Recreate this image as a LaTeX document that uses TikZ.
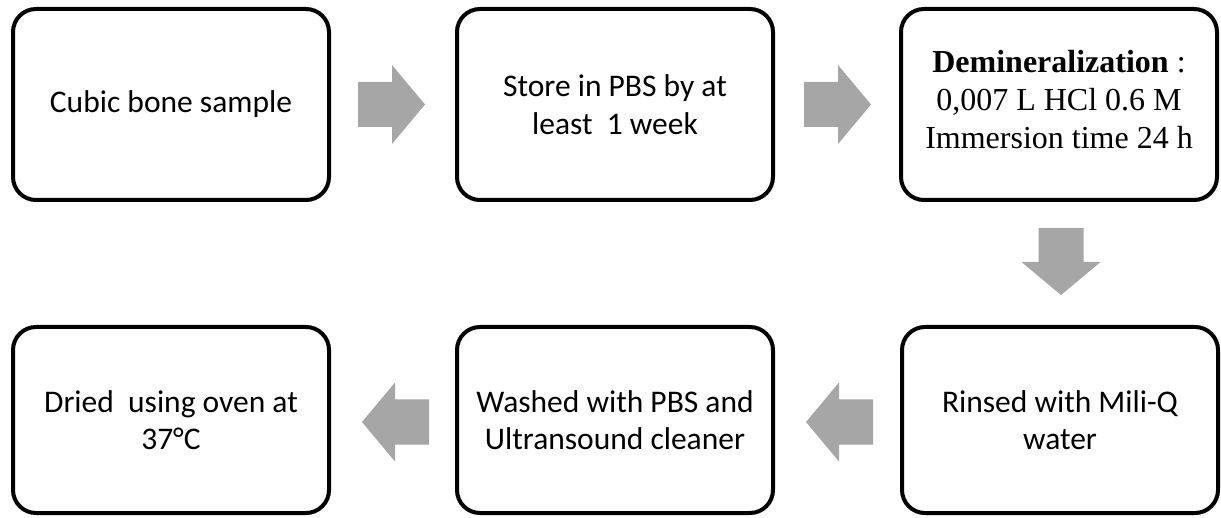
\documentclass[tikz,border=0pt]{standalone}
\usepackage{fontspec}
\setmainfont{Carlito}
\newfontfamily\tnr{Liberation Serif}
\begin{document}
\begin{tikzpicture}[x=1pt,y=-1pt,
  stepbox/.style={draw=black,line width=4pt,rounded corners=23pt,fill=white,
    minimum width=316pt,align=center,inner sep=0pt,
    font=\fontsize{31.5pt}{37.5pt}\selectfont},
  tophi/.style={minimum height=191pt},
  bothi/.style={minimum height=186pt},
  pics/barrow/.style={code={
    \fill[arrowgray] (0,-22.5) -- (34,-22.5) -- (34,-39.5) -- (67,0)
      -- (34,39.5) -- (34,22.5) -- (0,22.5) -- cycle;}}]
\definecolor{arrowgray}{RGB}{166,166,166}
\useasboundingbox (0,0) rectangle (1221,518);
\node[stepbox,tophi] (s1) at (171,104.5) {Cubic bone sample};
\node[stepbox,tophi] (s2) at (615,104.5) {Store in PBS by at\\least~ 1 week};
\node[stepbox,tophi,font=\tnr\fontsize{32pt}{38pt}\selectfont] (s3) at (1059,104.5)
  {\textbf{Demineralization} :\\0,007 L HCl 0.6 M\\Immersion time 24 h\\[-28pt]\mbox{}};
\node[stepbox,bothi] (s4) at (1060,420) {Rinsed with Mili-Q\\water};
\node[stepbox,bothi] (s5) at (615,420) {Washed with PBS and\\Ultransound cleaner};
\node[stepbox,bothi] (s6) at (171,420) {Dried~ using oven at\\37°C};
\pic (a1) at (358,104.5) {barrow};
\pic (a2) at (804,104.5) {barrow};
\pic[rotate=-90] (a3) at (1061,228) {barrow};
\pic[rotate=180] (a4) at (873,422) {barrow};
\pic[rotate=180] (a5) at (429,422) {barrow};
\end{tikzpicture}
\end{document}
